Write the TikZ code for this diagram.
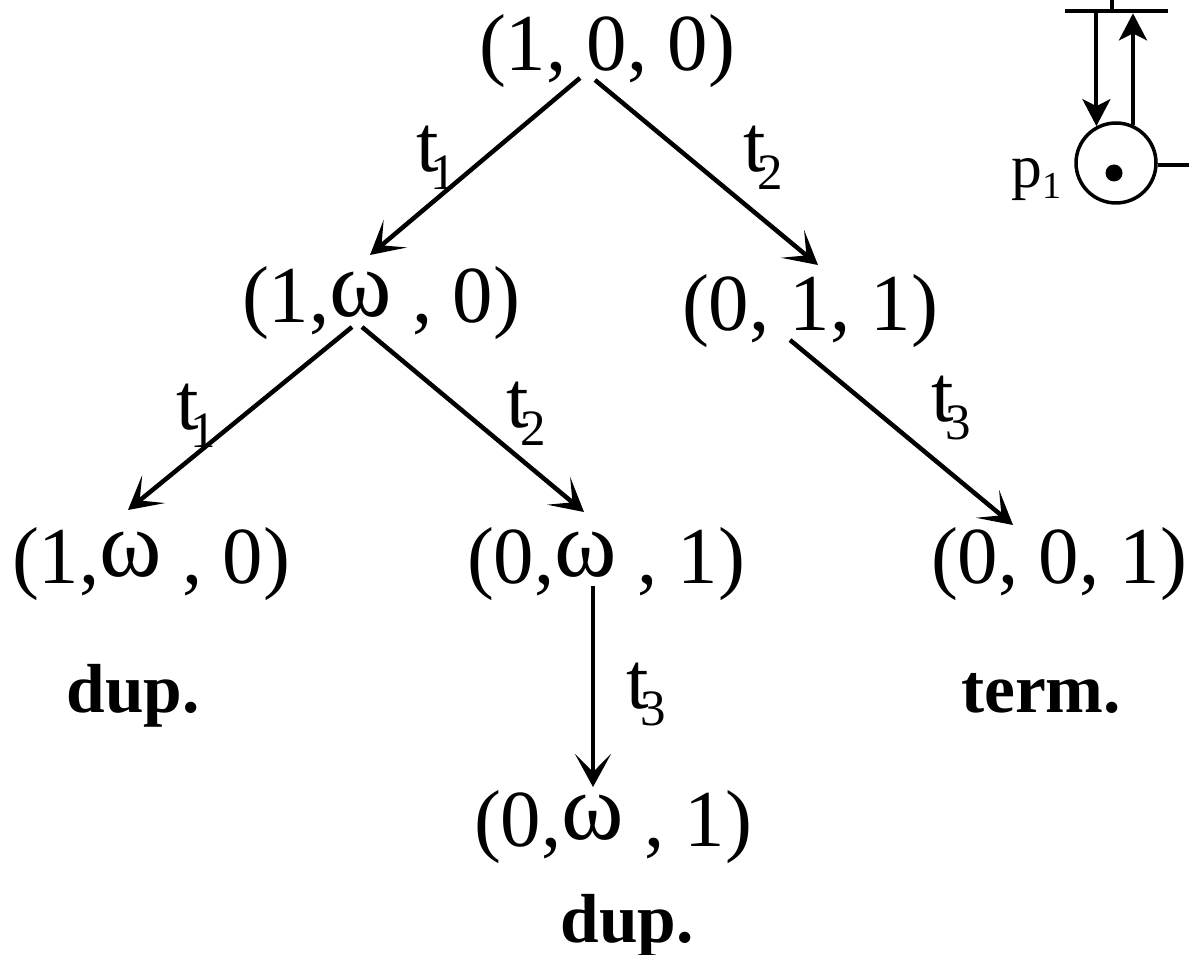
\documentclass[tikz,border=0pt]{standalone}
\usepackage{fontspec}
\setmainfont{Liberation Serif}
\usetikzlibrary{arrows.meta}
\tikzset{
    state/.style={anchor=base,inner sep=0pt,font=\fontsize{46}{46}\selectfont},
    note/.style={anchor=base,inner sep=0pt,font=\fontsize{39.5}{39.5}\selectfont\bfseries},
    fire/.style={anchor=base west,inner sep=0pt,font=\fontsize{46}{46}\selectfont},
    treeedge/.style={line width=0.09cm,-{Stealth[length=0.66cm,width=0.72cm,inset=0.36cm]}},
    netedge/.style={line width=0.08cm,-{Stealth[length=0.54cm,width=0.56cm,inset=0.14cm]}},
}
\newcommand{\tsub}[1]{t\kern-5pt\raisebox{-10pt}{\fontsize{29}{29}\selectfont #1}}
\newcommand{\bigom}{\raisebox{3.5pt}{\fontsize{54}{54}\selectfont ω}}
\begin{document}
\begin{tikzpicture}[x=0.02cm,y=-0.02cm]
    \useasboundingbox (0,0) rectangle (1189,955);
    % tree
    \node[state] (root) at (607,71) {(1, 0, 0)};
    \node[state] (omegaa) at (381,323) {(1,\bigom\ , 0)};
    \node[state] (onea) at (810,331) {(0, 1, 1)};
    \node[state] (omegab) at (151,583) {(1,\bigom\ , 0)};
    \node[state] (omegac) at (606,583) {(0,\bigom\ , 1)};
    \node[state] (oneb) at (1059,583) {(0, 0, 1)};
    \node[state] (omegad) at (613,846) {(0,\bigom\ , 1)};
    \node[note] (dupa) at (133,712) {dup.};
    \node[note] (terma) at (1041,712) {term.};
    \node[note] (dupb) at (627,942) {dup.};
    \node[fire] (firea) at (416,172) {\tsub{1}};
    \node[fire] (fireb) at (743,172) {\tsub{2}};
    \node[fire] (firec) at (176,430) {\tsub{1}};
    \node[fire] (fired) at (506,428) {\tsub{2}};
    \node[fire] (firee) at (931,422) {\tsub{3}};
    \node[fire] (firef) at (626,708) {\tsub{3}};
    \foreach \a/\ax/\ay/\b/\bx/\by in {root/-27/7/omegaa/-11/-68,root/-12/9/onea/8/-66,
        omegaa/-29/4/omegab/-23/-73,omegaa/-19/4/omegac/-22/-71,
        onea/-20/9/oneb/-46/-58,omegac/-13/3/omegad/-20/-59}{
        \draw[treeedge] ([shift={(\ax,\ay)}]\a.base) -- ([shift={(\bx,\by)}]\b.base);
    }
    % piece of the net
    \node[draw,circle,line width=0.07cm,minimum size=1.6cm,inner sep=0pt] (placea) at (1116,163) {};
    \node[fill,circle,inner sep=0pt,minimum size=0.34cm] (tokena) at (1114,173) {};
    \node[fill,inner sep=0pt,minimum width=2.06cm,minimum height=0.08cm] (transa) at (1116.5,11) {};
    \node[anchor=base east,inner sep=0pt,font=\fontsize{35}{35}\selectfont] (labela) at (1062,188)
        {p\raisebox{-6pt}{\fontsize{21.7}{21.7}\selectfont 1}};
    \coordinate (topend) at (1112,0);
    \coordinate (rightend) at (1189,165);
    \draw[line width=0.08cm] (topend) -- (topend |- transa);
    \draw[line width=0.07cm] (placea.east |- rightend) -- (rightend);
    \draw[netedge] (placea.118 |- transa.south) -- (placea.118);
    \draw[netedge] (placea.66) -- (placea.66 |- transa.south);
\end{tikzpicture}
\end{document}
